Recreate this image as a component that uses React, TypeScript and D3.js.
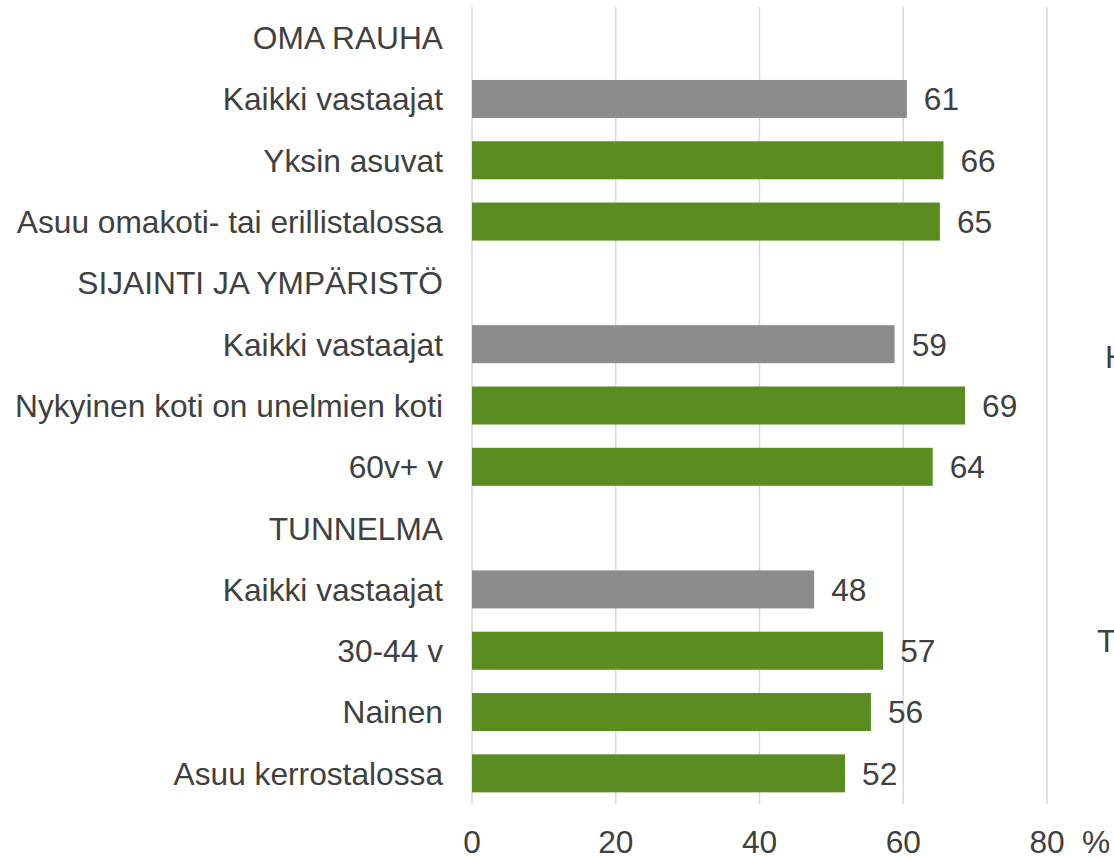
import { useEffect, useRef } from "react";
import * as d3 from "d3";

// rows from top to bottom; header rows have no value
const rowLabels = [
  "OMA RAUHA",
  "Kaikki vastaajat",
  "Yksin asuvat",
  "Asuu omakoti- tai erillistalossa",
  "SIJAINTI JA YMPÄRISTÖ",
  "Kaikki vastaajat",
  "Nykyinen koti on unelmien koti",
  "60v+ v",
  "TUNNELMA",
  "Kaikki vastaajat",
  "30-44 v",
  "Nainen",
  "Asuu kerrostalossa",
];
const rowValues = [null, 60.5, 65.6, 65.1, null, 58.8, 68.6, 64.1, null, 47.6, 57.2, 55.5, 51.9];
const rowValueLabels = ["", "61", "66", "65", "", "59", "69", "64", "", "48", "57", "56", "52"];
const rowIsTotal = [false, true, false, false, false, true, false, false, false, true, false, false, false];
const xTicks = [0, 20, 40, 60, 80];
const edgeLabels = [
  { text: "H", x: 1105, y: 368 },
  { text: "T", x: 1097, y: 652 },
];

export default function App() {
  const svgRef = useRef<SVGSVGElement>(null);

  useEffect(() => {
    const width = 1114;
    const height = 858;
    const font = "'Liberation Sans', Arial, sans-serif";
    const fontSize = 31.7;
    const textColor = "#404040";

    const svg = d3.select(svgRef.current);
    svg.selectAll("*").remove();
    svg.attr("width", width).attr("height", height);

    const x = d3.scaleLinear().domain([0, 80]).range([472, 1047]);
    const y = d3
      .scaleBand<number>()
      .domain(d3.range(rowLabels.length))
      .range([7, 804])
      .paddingInner(0.38)
      .paddingOuter(0.19);

    // vertical gridlines
    svg
      .append("g")
      .selectAll("line")
      .data(xTicks)
      .join("line")
      .attr("x1", (d) => x(d))
      .attr("x2", (d) => x(d))
      .attr("y1", 7)
      .attr("y2", 804)
      .attr("stroke", "#d9d9d9")
      .attr("stroke-width", 1.5);

    const rows = d3.range(rowLabels.length);

    // bars
    svg
      .append("g")
      .selectAll("rect")
      .data(rows.filter((i) => rowValues[i] != null))
      .join("rect")
      .attr("x", x(0))
      .attr("y", (i) => y(i)!)
      .attr("width", (i) => x(rowValues[i] as number) - x(0))
      .attr("height", y.bandwidth())
      .attr("fill", (i) => (rowIsTotal[i] ? "#8c8c8c" : "#5b8c22"));

    // category labels
    svg
      .append("g")
      .selectAll("text")
      .data(rows)
      .join("text")
      .attr("x", 443)
      .attr("y", (i) => y(i)! + y.bandwidth() / 2)
      .attr("dy", "0.36em")
      .attr("text-anchor", "end")
      .attr("font-family", font)
      .attr("font-size", fontSize)
      .attr("fill", textColor)
      .text((i) => rowLabels[i]);

    // value labels
    svg
      .append("g")
      .selectAll("text")
      .data(rows.filter((i) => rowValues[i] != null))
      .join("text")
      .attr("x", (i) => x(rowValues[i] as number) + 17)
      .attr("y", (i) => y(i)! + y.bandwidth() / 2)
      .attr("dy", "0.36em")
      .attr("font-family", font)
      .attr("font-size", fontSize)
      .attr("fill", textColor)
      .text((i) => rowValueLabels[i]);

    // x axis tick labels
    svg
      .append("g")
      .selectAll("text")
      .data(xTicks)
      .join("text")
      .attr("x", (d) => x(d))
      .attr("y", 853)
      .attr("text-anchor", "middle")
      .attr("font-family", font)
      .attr("font-size", fontSize)
      .attr("fill", textColor)
      .text((d) => String(d));

    svg
      .append("text")
      .attr("x", 1082)
      .attr("y", 853)
      .attr("font-family", font)
      .attr("font-size", fontSize)
      .attr("fill", textColor)
      .text("%");

    // cut-off labels at the right edge
    svg
      .append("g")
      .selectAll("text")
      .data(edgeLabels)
      .join("text")
      .attr("x", (d) => d.x)
      .attr("y", (d) => d.y)
      .attr("font-family", font)
      .attr("font-size", fontSize)
      .attr("fill", textColor)
      .text((d) => d.text);
  }, []);

  return (
    <svg
      ref={svgRef}
      style={{ position: "absolute", left: 0, top: 0, display: "block", background: "#fff" }}
    />
  );
}
